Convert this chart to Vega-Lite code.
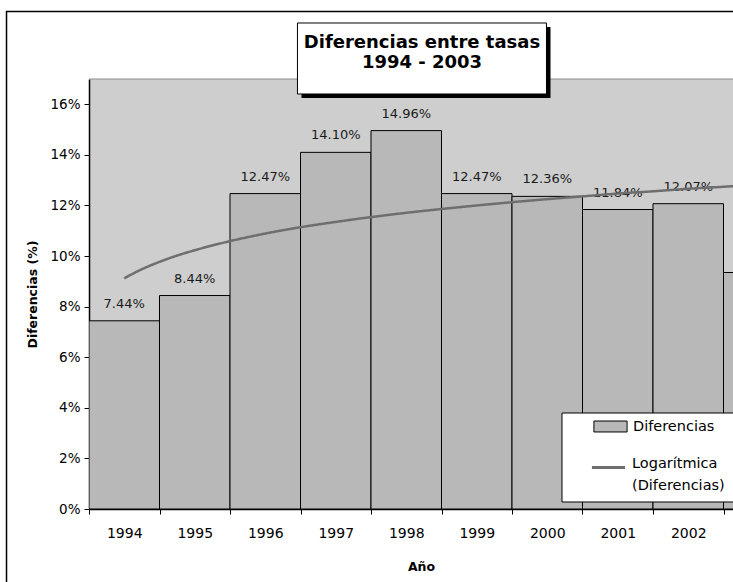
{
  "$schema": "https://vega.github.io/schema/vega-lite/v6.json",
  "width": 644,
  "height": 430,
  "autosize": {"type": "none"},
  "padding": {"left": 89, "top": 79, "right": 0, "bottom": 73},
  "background": "white",
  "config": {
    "view": {"fill": "#cecece", "stroke": null},
    "font": "DejaVu Sans",
    "style": {"guide-label": {"lineHeight": 22}},
    "axis": {"grid": false, "domainColor": "#000000", "tickColor": "#000000", "labelColor": "#000000", "titleColor": "#000000", "labelFont": "DejaVu Sans", "titleFont": "DejaVu Sans", "domainWidth": 1.5, "tickWidth": 1}
  },
  "datasets": {
    "bars": [
      {"year": 1994, "diff": 0.0744},
      {"year": 1995, "diff": 0.0844},
      {"year": 1996, "diff": 0.1247},
      {"year": 1997, "diff": 0.1410},
      {"year": 1998, "diff": 0.1496},
      {"year": 1999, "diff": 0.1247},
      {"year": 2000, "diff": 0.1236},
      {"year": 2001, "diff": 0.1184},
      {"year": 2002, "diff": 0.1207},
      {"year": 2003, "diff": 0.0935}
    ],
    "trend": [
      {"year": 1994, "v": 0.0912},
      {"year": 1994.25, "v": 0.0948},
      {"year": 1994.5, "v": 0.0977},
      {"year": 1994.75, "v": 0.1002},
      {"year": 1995, "v": 0.1023},
      {"year": 1995.5, "v": 0.1059},
      {"year": 1996, "v": 0.1089},
      {"year": 1996.5, "v": 0.1114},
      {"year": 1997, "v": 0.1135},
      {"year": 1997.5, "v": 0.1154},
      {"year": 1998, "v": 0.1171},
      {"year": 1998.5, "v": 0.1186},
      {"year": 1999, "v": 0.1200},
      {"year": 1999.5, "v": 0.1213},
      {"year": 2000, "v": 0.1225},
      {"year": 2000.5, "v": 0.1236},
      {"year": 2001, "v": 0.1247},
      {"year": 2001.5, "v": 0.1256},
      {"year": 2002, "v": 0.1266},
      {"year": 2002.5, "v": 0.1274},
      {"year": 2003, "v": 0.1283},
      {"year": 2003.5, "v": 0.1290}
    ]
  },
  "layer": [
    {
      "data": {"name": "bars"},
      "mark": {"type": "bar", "orient": "vertical", "width": 70.5, "stroke": "#000000", "strokeWidth": 1, "clip": true},
      "encoding": {
        "x": {
          "field": "year", "type": "quantitative",
          "scale": {"domain": [1993.5, 2003.5], "range": [0, 705], "nice": false, "zero": false, "padding": 0},
          "axis": {
            "values": [1993.5, 1994.5, 1995.5, 1996.5, 1997.5, 1998.5, 1999.5, 2000.5, 2001.5, 2002.5, 2003.5],
            "labelExpr": "datum.value < 2002 ? format(datum.value + 0.5, 'd') : ''",
            "labelOffset": 35.25, "tickSize": 5, "labelFontSize": 14, "labelPadding": 12,
            "labelOverlap": false, "labelBound": false, "labelFlush": false,
            "title": "Año", "titleFontSize": 12.5, "titleFontWeight": "bold", "titleX": 332, "titlePadding": 20
          }
        },
        "y": {
          "field": "diff", "type": "quantitative",
          "scale": {"domain": [0, 0.17], "nice": false, "padding": 0},
          "axis": {
            "values": [0, 0.02, 0.04, 0.06, 0.08, 0.1, 0.12, 0.14, 0.16],
            "format": ".0%", "tickSize": 5, "labelFontSize": 13.5, "labelPadding": 4,
            "title": "Diferencias (%)", "titleFontSize": 12.5, "titleFontWeight": "bold", "titlePadding": 10
          }
        },
        "color": {
          "datum": "Diferencias", "type": "nominal",
          "scale": {"domain": ["Diferencias"], "range": ["#b8b8b8"]},
          "legend": {
            "orient": "none", "legendX": 504, "legendY": 330, "title": null, "padding": 0,
            "symbolType": "M-1,-0.33H1V0.33H-1Z", "symbolSize": 1100,
            "symbolStrokeColor": "#000000", "symbolStrokeWidth": 1, "symbolOpacity": 1,
            "labelOffset": 5, "labelFont": "DejaVu Sans", "labelFontSize": 14.5, "labelColor": "#000000", "labelLimit": 0
          }
        }
      }
    },
    {
      "data": {"values": [{}]},
      "mark": {"type": "rule", "color": "#8c8c8c", "strokeWidth": 1},
      "encoding": {
        "y": {"datum": 0.17, "type": "quantitative"}
      }
    },
    {
      "data": {"name": "bars"},
      "transform": [{"filter": "datum.year < 2003"}],
      "mark": {"type": "text", "baseline": "alphabetic", "dy": -13, "fontSize": 13, "color": "#1a1a1a", "font": "DejaVu Sans"},
      "encoding": {
        "x": {"field": "year", "type": "quantitative"},
        "y": {"field": "diff", "type": "quantitative"},
        "text": {"field": "diff", "type": "quantitative", "format": ".2%"}
      }
    },
    {
      "data": {"name": "trend"},
      "mark": {"type": "line", "strokeWidth": 2.5, "interpolate": "monotone", "clip": true, "color": "#6e6e6e"},
      "encoding": {
        "x": {"field": "year", "type": "quantitative"},
        "y": {"field": "v", "type": "quantitative"},
        "strokeDash": {
          "datum": "Logarítmica (Diferencias)", "type": "nominal",
          "scale": {"domain": ["Logarítmica (Diferencias)"], "range": [[1, 0]]},
          "legend": {
            "orient": "none", "legendX": 501, "legendY": 370, "title": null, "padding": 0,
            "symbolType": "stroke", "symbolSize": 1100,
            "symbolStrokeColor": "#6e6e6e", "symbolStrokeWidth": 3, "symbolOpacity": 1,
            "labelOffset": 5, "labelFont": "DejaVu Sans", "labelFontSize": 14.5, "labelColor": "#000000", "labelLimit": 0,
            "labelBaseline": "alphabetic",
            "labelExpr": "['Logarítmica', '(Diferencias)']"
          }
        }
      }
    },
    {
      "data": {"values": [{}]},
      "mark": {"type": "rect", "fill": "#ffffff", "stroke": "#000000", "strokeWidth": 1, "clip": false},
      "encoding": {
        "x": {"datum": 2000.209, "type": "quantitative"},
        "x2": {"datum": 2015},
        "y": {"datum": 0.03795, "type": "quantitative"},
        "y2": {"datum": 0.00277}
      }
    },
    {
      "data": {"values": [{}]},
      "mark": {"type": "rect", "fill": "#000000", "clip": false},
      "encoding": {
        "x": {"datum": 1996.514, "type": "quantitative"},
        "x2": {"datum": 2000.046},
        "y": {"datum": 0.19056, "type": "quantitative"},
        "y2": {"datum": 0.16249}
      }
    },
    {
      "data": {"values": [{}]},
      "mark": {"type": "rect", "fill": "#ffffff", "stroke": "#000000", "strokeWidth": 1, "clip": false},
      "encoding": {
        "x": {"datum": 1996.457, "type": "quantitative"},
        "x2": {"datum": 1999.989},
        "y": {"datum": 0.19214, "type": "quantitative"},
        "y2": {"datum": 0.16407}
      }
    },
    {
      "data": {"values": [{}]},
      "mark": {"type": "text", "text": "Diferencias entre tasas", "font": "DejaVu Sans", "fontWeight": "bold", "fontSize": 18, "baseline": "middle", "align": "center", "color": "#000000", "clip": false},
      "encoding": {
        "x": {"datum": 1998.223, "type": "quantitative"},
        "y": {"datum": 0.18443, "type": "quantitative"}
      }
    },
    {
      "data": {"values": [{}]},
      "mark": {"type": "text", "text": "1994 - 2003", "font": "DejaVu Sans", "fontWeight": "bold", "fontSize": 18, "baseline": "middle", "align": "center", "color": "#000000", "clip": false},
      "encoding": {
        "x": {"datum": 1998.223, "type": "quantitative"},
        "y": {"datum": 0.17613, "type": "quantitative"}
      }
    },
    {
      "data": {"values": [{}]},
      "mark": {"type": "rect", "fill": null, "fillOpacity": 0, "stroke": "#000000", "strokeWidth": 1.5, "clip": false},
      "encoding": {
        "x": {"datum": 1992.33, "type": "quantitative"},
        "x2": {"datum": 2015},
        "y": {"datum": 0.19669, "type": "quantitative"},
        "y2": {"datum": -0.1}
      }
    }
  ]
}
